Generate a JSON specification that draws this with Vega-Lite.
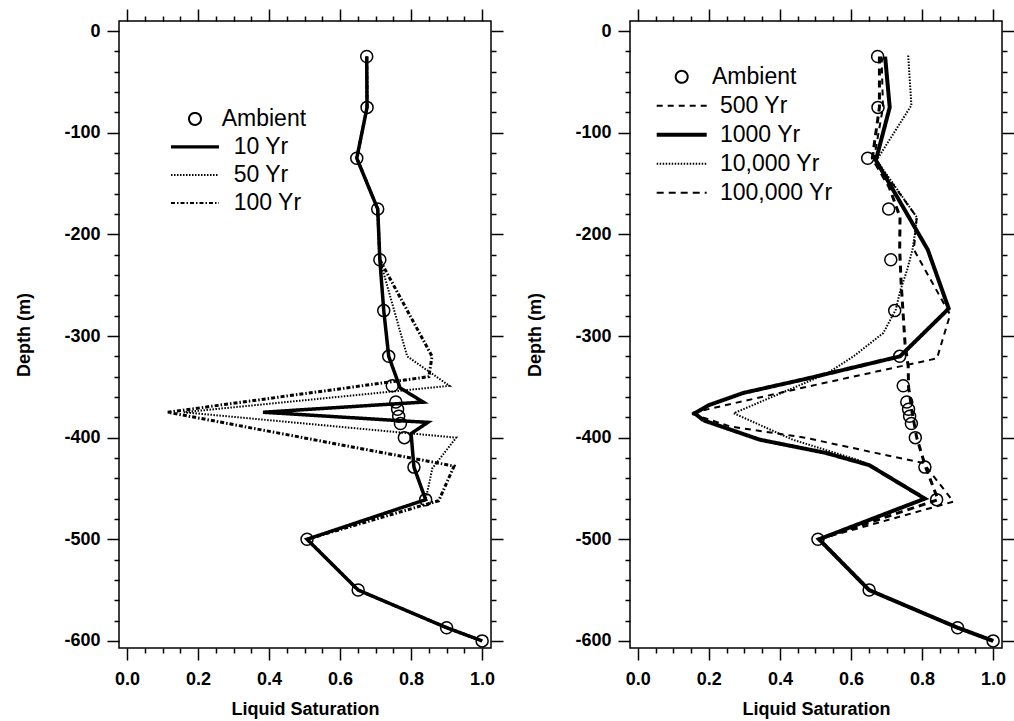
{
  "$schema": "https://vega.github.io/schema/vega-lite/v6.json",
  "padding": {"left": 15, "top": 7, "right": 5, "bottom": 3},
  "background": "white",
  "spacing": 21,
  "config": {
    "view": {"stroke": "black", "strokeWidth": 1.5},
    "axis": {
      "domain": false, "grid": false,
      "tickColor": "black", "tickWidth": 1.5,
      "labelFont": "Liberation Sans", "labelFontWeight": "bold", "labelFontSize": 18, "labelColor": "black",
      "titleFont": "Liberation Sans", "titleFontWeight": "bold", "titleFontSize": 18, "titleColor": "black",
      "labelOverlap": false, "labelFlush": false, "labelBound": false
    },
    "legend": {"labelFont": "Liberation Sans", "labelFontSize": 23, "labelColor": "black", "padding": 0, "rowPadding": 0, "symbolStrokeColor": "black", "symbolStrokeWidth": 2}
  },
  "resolve": {"scale": {"strokeDash": "independent"}, "legend": {"strokeDash": "independent"}},
  "datasets": {
    "left": [
      {"series": "Ambient", "sat": 0.675, "depth": -25},
      {"series": "Ambient", "sat": 0.676, "depth": -75},
      {"series": "Ambient", "sat": 0.647, "depth": -125},
      {"series": "Ambient", "sat": 0.706, "depth": -175},
      {"series": "Ambient", "sat": 0.712, "depth": -225},
      {"series": "Ambient", "sat": 0.723, "depth": -275},
      {"series": "Ambient", "sat": 0.737, "depth": -320},
      {"series": "Ambient", "sat": 0.747, "depth": -349},
      {"series": "Ambient", "sat": 0.757, "depth": -365},
      {"series": "Ambient", "sat": 0.762, "depth": -372},
      {"series": "Ambient", "sat": 0.765, "depth": -379},
      {"series": "Ambient", "sat": 0.77, "depth": -386},
      {"series": "Ambient", "sat": 0.781, "depth": -400},
      {"series": "Ambient", "sat": 0.808, "depth": -429},
      {"series": "Ambient", "sat": 0.841, "depth": -461},
      {"series": "Ambient", "sat": 0.507, "depth": -500},
      {"series": "Ambient", "sat": 0.651, "depth": -550},
      {"series": "Ambient", "sat": 0.9, "depth": -587},
      {"series": "Ambient", "sat": 1.0, "depth": -600},

      {"series": "10 Yr", "sat": 0.675, "depth": -25},
      {"series": "10 Yr", "sat": 0.676, "depth": -75},
      {"series": "10 Yr", "sat": 0.647, "depth": -125},
      {"series": "10 Yr", "sat": 0.706, "depth": -175},
      {"series": "10 Yr", "sat": 0.712, "depth": -225},
      {"series": "10 Yr", "sat": 0.723, "depth": -275},
      {"series": "10 Yr", "sat": 0.737, "depth": -320},
      {"series": "10 Yr", "sat": 0.769, "depth": -351},
      {"series": "10 Yr", "sat": 0.834, "depth": -365},
      {"series": "10 Yr", "sat": 0.383, "depth": -375},
      {"series": "10 Yr", "sat": 0.847, "depth": -385},
      {"series": "10 Yr", "sat": 0.8, "depth": -396},
      {"series": "10 Yr", "sat": 0.808, "depth": -429},
      {"series": "10 Yr", "sat": 0.841, "depth": -461},
      {"series": "10 Yr", "sat": 0.507, "depth": -500},
      {"series": "10 Yr", "sat": 0.651, "depth": -550},
      {"series": "10 Yr", "sat": 0.9, "depth": -587},
      {"series": "10 Yr", "sat": 1.0, "depth": -600},

      {"series": "50 Yr", "sat": 0.675, "depth": -25},
      {"series": "50 Yr", "sat": 0.676, "depth": -75},
      {"series": "50 Yr", "sat": 0.647, "depth": -125},
      {"series": "50 Yr", "sat": 0.706, "depth": -175},
      {"series": "50 Yr", "sat": 0.712, "depth": -225},
      {"series": "50 Yr", "sat": 0.789, "depth": -320},
      {"series": "50 Yr", "sat": 0.908, "depth": -349},
      {"series": "50 Yr", "sat": 0.16, "depth": -375},
      {"series": "50 Yr", "sat": 0.927, "depth": -400},
      {"series": "50 Yr", "sat": 0.86, "depth": -430},
      {"series": "50 Yr", "sat": 0.841, "depth": -461},
      {"series": "50 Yr", "sat": 0.507, "depth": -500},
      {"series": "50 Yr", "sat": 0.651, "depth": -550},
      {"series": "50 Yr", "sat": 0.9, "depth": -587},
      {"series": "50 Yr", "sat": 1.0, "depth": -600},

      {"series": "100 Yr", "sat": 0.675, "depth": -25},
      {"series": "100 Yr", "sat": 0.676, "depth": -75},
      {"series": "100 Yr", "sat": 0.647, "depth": -125},
      {"series": "100 Yr", "sat": 0.706, "depth": -175},
      {"series": "100 Yr", "sat": 0.712, "depth": -225},
      {"series": "100 Yr", "sat": 0.859, "depth": -320},
      {"series": "100 Yr", "sat": 0.85, "depth": -340},
      {"series": "100 Yr", "sat": 0.115, "depth": -375},
      {"series": "100 Yr", "sat": 0.921, "depth": -428},
      {"series": "100 Yr", "sat": 0.878, "depth": -462},
      {"series": "100 Yr", "sat": 0.507, "depth": -500},
      {"series": "100 Yr", "sat": 0.651, "depth": -550},
      {"series": "100 Yr", "sat": 0.9, "depth": -587},
      {"series": "100 Yr", "sat": 1.0, "depth": -600}
    ],
    "right": [
      {"series": "Ambient", "sat": 0.675, "depth": -25},
      {"series": "Ambient", "sat": 0.676, "depth": -75},
      {"series": "Ambient", "sat": 0.647, "depth": -125},
      {"series": "Ambient", "sat": 0.706, "depth": -175},
      {"series": "Ambient", "sat": 0.712, "depth": -225},
      {"series": "Ambient", "sat": 0.723, "depth": -275},
      {"series": "Ambient", "sat": 0.737, "depth": -320},
      {"series": "Ambient", "sat": 0.747, "depth": -349},
      {"series": "Ambient", "sat": 0.757, "depth": -365},
      {"series": "Ambient", "sat": 0.762, "depth": -372},
      {"series": "Ambient", "sat": 0.765, "depth": -379},
      {"series": "Ambient", "sat": 0.77, "depth": -386},
      {"series": "Ambient", "sat": 0.781, "depth": -400},
      {"series": "Ambient", "sat": 0.808, "depth": -429},
      {"series": "Ambient", "sat": 0.841, "depth": -461},
      {"series": "Ambient", "sat": 0.507, "depth": -500},
      {"series": "Ambient", "sat": 0.651, "depth": -550},
      {"series": "Ambient", "sat": 0.9, "depth": -587},
      {"series": "Ambient", "sat": 1.0, "depth": -600},

      {"series": "500 Yr", "sat": 0.686, "depth": -25},
      {"series": "500 Yr", "sat": 0.69, "depth": -75},
      {"series": "500 Yr", "sat": 0.665, "depth": -125},
      {"series": "500 Yr", "sat": 0.785, "depth": -183},
      {"series": "500 Yr", "sat": 0.777, "depth": -215},
      {"series": "500 Yr", "sat": 0.879, "depth": -279},
      {"series": "500 Yr", "sat": 0.842, "depth": -322},
      {"series": "500 Yr", "sat": 0.475, "depth": -350},
      {"series": "500 Yr", "sat": 0.147, "depth": -376},
      {"series": "500 Yr", "sat": 0.26, "depth": -389},
      {"series": "500 Yr", "sat": 0.47, "depth": -400},
      {"series": "500 Yr", "sat": 0.669, "depth": -415},
      {"series": "500 Yr", "sat": 0.804, "depth": -425},
      {"series": "500 Yr", "sat": 0.888, "depth": -463},
      {"series": "500 Yr", "sat": 0.51, "depth": -500},
      {"series": "500 Yr", "sat": 0.651, "depth": -550},
      {"series": "500 Yr", "sat": 0.9, "depth": -587},
      {"series": "500 Yr", "sat": 1.0, "depth": -600},

      {"series": "1000 Yr", "sat": 0.696, "depth": -25},
      {"series": "1000 Yr", "sat": 0.709, "depth": -75},
      {"series": "1000 Yr", "sat": 0.67, "depth": -127},
      {"series": "1000 Yr", "sat": 0.816, "depth": -215},
      {"series": "1000 Yr", "sat": 0.875, "depth": -273},
      {"series": "1000 Yr", "sat": 0.738, "depth": -320},
      {"series": "1000 Yr", "sat": 0.475, "depth": -342},
      {"series": "1000 Yr", "sat": 0.297, "depth": -356},
      {"series": "1000 Yr", "sat": 0.2, "depth": -368},
      {"series": "1000 Yr", "sat": 0.16, "depth": -376},
      {"series": "1000 Yr", "sat": 0.185, "depth": -383},
      {"series": "1000 Yr", "sat": 0.343, "depth": -402},
      {"series": "1000 Yr", "sat": 0.529, "depth": -415},
      {"series": "1000 Yr", "sat": 0.651, "depth": -427},
      {"series": "1000 Yr", "sat": 0.808, "depth": -460},
      {"series": "1000 Yr", "sat": 0.51, "depth": -500},
      {"series": "1000 Yr", "sat": 0.651, "depth": -550},
      {"series": "1000 Yr", "sat": 0.9, "depth": -587},
      {"series": "1000 Yr", "sat": 1.0, "depth": -600},

      {"series": "10,000 Yr", "sat": 0.761, "depth": -24},
      {"series": "10,000 Yr", "sat": 0.77, "depth": -73},
      {"series": "10,000 Yr", "sat": 0.672, "depth": -127},
      {"series": "10,000 Yr", "sat": 0.785, "depth": -183},
      {"series": "10,000 Yr", "sat": 0.78, "depth": -199},
      {"series": "10,000 Yr", "sat": 0.773, "depth": -215},
      {"series": "10,000 Yr", "sat": 0.758, "depth": -235},
      {"series": "10,000 Yr", "sat": 0.739, "depth": -255},
      {"series": "10,000 Yr", "sat": 0.726, "depth": -274},
      {"series": "10,000 Yr", "sat": 0.691, "depth": -297},
      {"series": "10,000 Yr", "sat": 0.607, "depth": -320},
      {"series": "10,000 Yr", "sat": 0.532, "depth": -337},
      {"series": "10,000 Yr", "sat": 0.27, "depth": -376},
      {"series": "10,000 Yr", "sat": 0.436, "depth": -402},
      {"series": "10,000 Yr", "sat": 0.62, "depth": -422},
      {"series": "10,000 Yr", "sat": 0.651, "depth": -427},
      {"series": "10,000 Yr", "sat": 0.808, "depth": -460},
      {"series": "10,000 Yr", "sat": 0.51, "depth": -500},
      {"series": "10,000 Yr", "sat": 0.651, "depth": -550},
      {"series": "10,000 Yr", "sat": 0.9, "depth": -587},
      {"series": "10,000 Yr", "sat": 1.0, "depth": -600},

      {"series": "100,000 Yr", "sat": 0.68, "depth": -25},
      {"series": "100,000 Yr", "sat": 0.68, "depth": -75},
      {"series": "100,000 Yr", "sat": 0.66, "depth": -125},
      {"series": "100,000 Yr", "sat": 0.707, "depth": -153},
      {"series": "100,000 Yr", "sat": 0.738, "depth": -183},
      {"series": "100,000 Yr", "sat": 0.737, "depth": -215},
      {"series": "100,000 Yr", "sat": 0.741, "depth": -247},
      {"series": "100,000 Yr", "sat": 0.752, "depth": -307},
      {"series": "100,000 Yr", "sat": 0.761, "depth": -330},
      {"series": "100,000 Yr", "sat": 0.762, "depth": -350},
      {"series": "100,000 Yr", "sat": 0.772, "depth": -375},
      {"series": "100,000 Yr", "sat": 0.785, "depth": -400},
      {"series": "100,000 Yr", "sat": 0.81, "depth": -429},
      {"series": "100,000 Yr", "sat": 0.845, "depth": -461},
      {"series": "100,000 Yr", "sat": 0.51, "depth": -500},
      {"series": "100,000 Yr", "sat": 0.651, "depth": -550},
      {"series": "100,000 Yr", "sat": 0.9, "depth": -587},
      {"series": "100,000 Yr", "sat": 1.0, "depth": -600}
    ]
  },
  "hconcat": [
    {
      "width": 372, "height": 627,
      "data": {"name": "left"},
      "resolve": {"axis": {"x": "independent", "y": "independent"}},
      "layer": [
        {
          "transform": [{"filter": "datum.series !== 'Ambient'"}],
          "mark": {"type": "line", "color": "black", "strokeCap": "butt", "strokeJoin": "miter", "clip": true},
          "encoding": {
            "x": {"field": "sat", "type": "quantitative", "scale": {"domain": [-0.0225, 1.025], "nice": false, "zero": false},
              "axis": {"orient": "bottom", "title": "Liquid Saturation", "values": [0, 0.2, 0.4, 0.6, 0.8, 1.0], "format": ".1f",
                "tickSize": 12, "labelPadding": 10, "titlePadding": 12}},
            "y": {"field": "depth", "type": "quantitative", "scale": {"domain": [-607, 10], "nice": false, "zero": false},
              "axis": {"orient": "left", "title": "Depth (m)", "values": [0, -100, -200, -300, -400, -500, -600],
                "labelExpr": "'' + datum.value", "tickSize": 12, "labelPadding": 7, "titlePadding": 30}},
            "order": {"field": "depth", "type": "quantitative", "sort": "descending"},
            "strokeDash": {"field": "series", "type": "nominal",
              "scale": {"domain": ["Ambient", "10 Yr", "50 Yr", "100 Yr"], "range": [[1, 0], [1, 0], [1.5, 1.5], [4, 2, 1.5, 2]]},
              "legend": {"orient": "none", "legendX": 51, "legendY": 84, "title": null, "rowPadding": 0, "clipHeight": 27.8,
                "symbolSize": 2304, "symbolType": "stroke", "labelOffset": 13.7,
                "encode": {
                  "symbols": {"update": {
                    "shape": {"signal": "datum.value === 'Ambient' ? 'M0.25,0A0.25,0.25,0,1,1,-0.25,0A0.25,0.25,0,1,1,0.25,0Z' : datum.value === '10 Yr' ? 'M-1,-0.07L1,-0.07L1,0.07L-1,0.07Z' : 'stroke'"},
                    "fill": {"signal": "datum.value === '10 Yr' ? 'black' : 'transparent'"},
                    "stroke": {"signal": "datum.value === '10 Yr' ? 'transparent' : 'black'"}}},
                  "labels": {"update": {"dx": {"signal": "datum.value === 'Ambient' ? -12 : 0"}}}
                }}},
            "strokeWidth": {"condition": [{"test": "datum.series === '10 Yr'", "value": 3.5}, {"test": "datum.series === '100 Yr'", "value": 3}], "value": 2}
          }
        },
        {
          "transform": [{"filter": "datum.series === 'Ambient'"}],
          "mark": {"type": "point", "shape": "circle", "filled": false, "color": "black", "size": 144, "strokeWidth": 1.5, "opacity": 1},
          "encoding": {
            "x": {"field": "sat", "type": "quantitative",
              "axis": {"orient": "top", "title": null, "labels": false, "values": [0, 0.2, 0.4, 0.6, 0.8, 1.0], "tickSize": 12}},
            "y": {"field": "depth", "type": "quantitative",
              "axis": {"orient": "right", "title": null, "labels": false, "values": [0, -100, -200, -300, -400, -500, -600], "tickSize": 12}}
          }
        },
        {
          "transform": [{"filter": "datum.series === 'Ambient'"}],
          "mark": {"type": "point", "opacity": 0},
          "encoding": {
            "x": {"field": "sat", "type": "quantitative",
              "axis": {"orient": "bottom", "title": null, "labels": false, "tickSize": 5, "values": [0.05,0.1,0.15,0.25,0.3,0.35,0.45,0.5,0.55,0.65,0.7,0.75,0.85,0.9,0.95]}},
            "y": {"field": "depth", "type": "quantitative",
              "axis": {"orient": "left", "title": null, "labels": false, "tickSize": 5, "values": [-20,-40,-60,-80,-120,-140,-160,-180,-220,-240,-260,-280,-320,-340,-360,-380,-420,-440,-460,-480,-520,-540,-560,-580]}}
          }
        },
        {
          "transform": [{"filter": "datum.series === 'Ambient'"}],
          "mark": {"type": "point", "opacity": 0},
          "encoding": {
            "x": {"field": "sat", "type": "quantitative",
              "axis": {"orient": "top", "title": null, "labels": false, "tickSize": 5, "values": [0.05,0.1,0.15,0.25,0.3,0.35,0.45,0.5,0.55,0.65,0.7,0.75,0.85,0.9,0.95]}},
            "y": {"field": "depth", "type": "quantitative",
              "axis": {"orient": "right", "title": null, "labels": false, "tickSize": 5, "values": [-20,-40,-60,-80,-120,-140,-160,-180,-220,-240,-260,-280,-320,-340,-360,-380,-420,-440,-460,-480,-520,-540,-560,-580]}}
          }
        }
      ]
    },
    {
      "width": 372, "height": 627,
      "data": {"name": "right"},
      "resolve": {"axis": {"x": "independent", "y": "independent"}},
      "layer": [
        {
          "transform": [{"filter": "datum.series !== 'Ambient'"}],
          "mark": {"type": "line", "color": "black", "strokeCap": "butt", "strokeJoin": "miter", "clip": true},
          "encoding": {
            "x": {"field": "sat", "type": "quantitative", "scale": {"domain": [-0.022, 1.025], "nice": false, "zero": false},
              "axis": {"orient": "bottom", "title": "Liquid Saturation", "values": [0, 0.2, 0.4, 0.6, 0.8, 1.0], "format": ".1f",
                "tickSize": 12, "labelPadding": 10, "titlePadding": 12}},
            "y": {"field": "depth", "type": "quantitative", "scale": {"domain": [-607, 10], "nice": false, "zero": false},
              "axis": {"orient": "left", "title": "Depth (m)", "values": [0, -100, -200, -300, -400, -500, -600],
                "labelExpr": "'' + datum.value", "tickSize": 12, "labelPadding": 7, "titlePadding": 30}},
            "order": {"field": "depth", "type": "quantitative", "sort": "descending"},
            "strokeDash": {"field": "series", "type": "nominal",
              "scale": {"domain": ["Ambient", "500 Yr", "1000 Yr", "10,000 Yr", "100,000 Yr"], "range": [[1, 0], [6, 5], [1, 0], [1.5, 1.5], [7, 5]]},
              "legend": {"orient": "none", "legendX": 25.7, "legendY": 41.5, "title": null, "rowPadding": 0, "clipHeight": 28.6,
                "symbolSize": 2500, "symbolType": "stroke", "labelOffset": 12.3,
                "encode": {
                  "symbols": {"update": {
                    "shape": {"signal": "datum.value === 'Ambient' ? 'M0.24,0A0.24,0.24,0,1,1,-0.24,0A0.24,0.24,0,1,1,0.24,0Z' : datum.value === '1000 Yr' ? 'M-1,-0.08L1,-0.08L1,0.08L-1,0.08Z' : 'stroke'"},
                    "fill": {"signal": "datum.value === '1000 Yr' ? 'black' : 'transparent'"},
                    "stroke": {"signal": "datum.value === '1000 Yr' ? 'transparent' : 'black'"}}},
                  "labels": {"update": {"dx": {"signal": "datum.value === 'Ambient' ? -8 : 0"}}}
                }}},
            "strokeWidth": {"condition": [{"test": "datum.series === '1000 Yr'", "value": 4}, {"test": "datum.series === '100,000 Yr'", "value": 3}], "value": 2}
          }
        },
        {
          "transform": [{"filter": "datum.series === 'Ambient'"}],
          "mark": {"type": "point", "shape": "circle", "filled": false, "color": "black", "size": 144, "strokeWidth": 1.5, "opacity": 1},
          "encoding": {
            "x": {"field": "sat", "type": "quantitative",
              "axis": {"orient": "top", "title": null, "labels": false, "values": [0, 0.2, 0.4, 0.6, 0.8, 1.0], "tickSize": 12}},
            "y": {"field": "depth", "type": "quantitative",
              "axis": {"orient": "right", "title": null, "labels": false, "values": [0, -100, -200, -300, -400, -500, -600], "tickSize": 12}}
          }
        },
        {
          "transform": [{"filter": "datum.series === 'Ambient'"}],
          "mark": {"type": "point", "opacity": 0},
          "encoding": {
            "x": {"field": "sat", "type": "quantitative",
              "axis": {"orient": "bottom", "title": null, "labels": false, "tickSize": 5, "values": [0.05,0.1,0.15,0.25,0.3,0.35,0.45,0.5,0.55,0.65,0.7,0.75,0.85,0.9,0.95]}},
            "y": {"field": "depth", "type": "quantitative",
              "axis": {"orient": "left", "title": null, "labels": false, "tickSize": 5, "values": [-20,-40,-60,-80,-120,-140,-160,-180,-220,-240,-260,-280,-320,-340,-360,-380,-420,-440,-460,-480,-520,-540,-560,-580]}}
          }
        },
        {
          "transform": [{"filter": "datum.series === 'Ambient'"}],
          "mark": {"type": "point", "opacity": 0},
          "encoding": {
            "x": {"field": "sat", "type": "quantitative",
              "axis": {"orient": "top", "title": null, "labels": false, "tickSize": 5, "values": [0.05,0.1,0.15,0.25,0.3,0.35,0.45,0.5,0.55,0.65,0.7,0.75,0.85,0.9,0.95]}},
            "y": {"field": "depth", "type": "quantitative",
              "axis": {"orient": "right", "title": null, "labels": false, "tickSize": 5, "values": [-20,-40,-60,-80,-120,-140,-160,-180,-220,-240,-260,-280,-320,-340,-360,-380,-420,-440,-460,-480,-520,-540,-560,-580]}}
          }
        }
      ]
    }
  ]
}
